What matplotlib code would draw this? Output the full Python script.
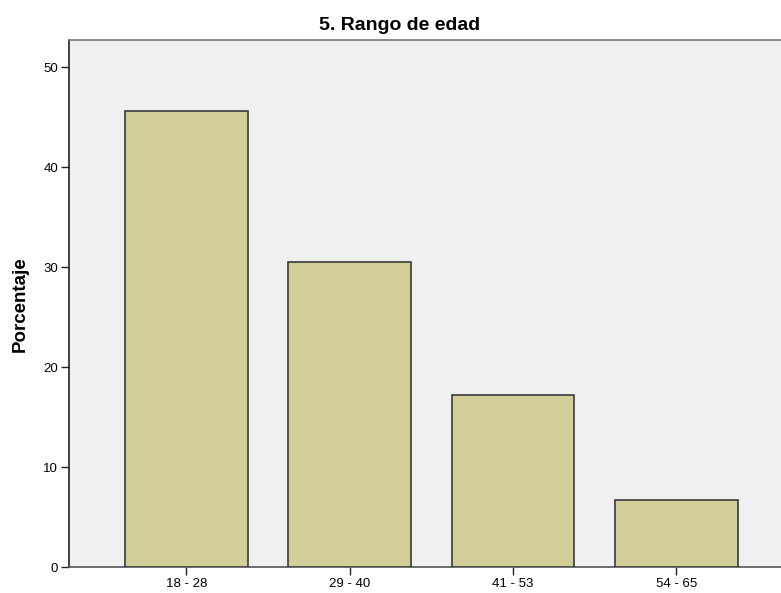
import matplotlib.pyplot as plt

# datos
categorias = ["18 - 28", "29 - 40", "41 - 53", "54 - 65"]
porcentajes = [45.6, 30.5, 17.2, 6.7]
yticks = [0, 10, 20, 30, 40, 50]

plt.rcParams['font.family'] = ['Liberation Sans', 'DejaVu Sans']

fig = plt.figure(figsize=(7.81, 5.93), dpi=100)
ax = fig.add_axes([0.088, 0.0433, 0.912, 0.8892])

x = range(len(categorias))
ax.bar(x, porcentajes, width=0.75, color='#D2CE98', edgecolor='#3a3a3a', linewidth=1.2, zorder=3)

ax.set_facecolor('#F0F0F0')
ax.set_xlim(-0.72, 3.64)
ax.set_ylim(0, 52.7)
ax.set_xticks(list(x))
ax.set_xticklabels(categorias, fontsize=9.5)
ax.set_yticks(yticks)
ax.set_yticklabels([str(v) for v in yticks], fontsize=9.5)
ax.tick_params(axis='both', direction='out', length=6, width=1, color='#222222', pad=1.5)

ax.spines['left'].set_color('#222222')
ax.spines['bottom'].set_color('#555555')
ax.spines['top'].set_color('#777777')
ax.spines['right'].set_visible(False)
for s in ['left', 'bottom', 'top']:
    ax.spines[s].set_linewidth(1.2)

# etiqueta del eje y y titulo
fig.text(20 / 781, 1 - 304 / 593, "Porcentaje", rotation=90, ha='center', va='center',
         fontsize=13.5, fontweight='bold')
fig.text(400 / 781, 1 - 25 / 593, "5. Rango de edad", ha='center', va='center',
         fontsize=14, fontweight='bold')

plt.savefig("out.png", dpi=100)
